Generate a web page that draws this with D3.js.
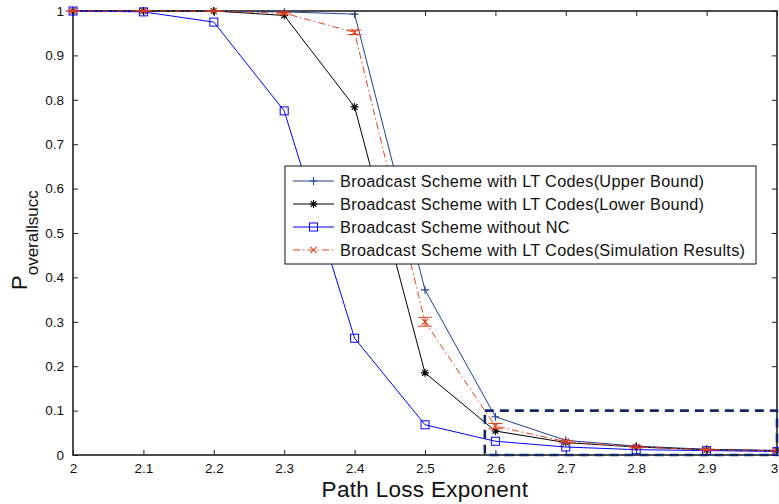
<!DOCTYPE html>
<html>
<head>
<meta charset="utf-8">
<script src="https://cdn.jsdelivr.net/npm/d3@7"></script>
<style>
  body { margin: 0; background: #fff; }
  svg { display: block; font-family: "Liberation Sans", Arial, Helvetica, sans-serif; }
</style>
</head>
<body>
<svg id="chart" width="779" height="504"></svg>
<script>
// Path loss exponent values on the x axis
const exponents = [2, 2.1, 2.2, 2.3, 2.4, 2.5, 2.6, 2.7, 2.8, 2.9, 3];

// Overall success probability for each scheme
const upperBound = [1, 1, 1, 0.998, 0.993, 0.372, 0.086, 0.033, 0.02, 0.013, 0.01];
const lowerBound = [1, 1, 1, 0.99, 0.784, 0.185, 0.054, 0.028, 0.018, 0.012, 0.01];
const withoutNC  = [1, 0.998, 0.975, 0.775, 0.263, 0.068, 0.031, 0.018, 0.012, 0.01, 0.008];
const simulation = [1, 1, 1, 0.995, 0.952, 0.30, 0.065, 0.03, 0.018, 0.012, 0.01];
const simError   = [0, 0, 0, 0.002, 0.005, 0.01, 0.006, 0.003, 0.002, 0.001, 0.001];

const xTicks = [2, 2.1, 2.2, 2.3, 2.4, 2.5, 2.6, 2.7, 2.8, 2.9, 3];
const yTicks = [0, 0.1, 0.2, 0.3, 0.4, 0.5, 0.6, 0.7, 0.8, 0.9, 1];

const legendLabels = [
  "Broadcast Scheme with LT Codes(Upper Bound)",
  "Broadcast Scheme with LT Codes(Lower Bound)",
  "Broadcast Scheme without NC",
  "Broadcast Scheme with LT Codes(Simulation Results)"
];

// Zoom region highlighted with a dashed box
const zoomBox = { x0: 2.585, x1: 3, y0: 0, y1: 0.1 };

const svg = d3.select("#chart");
const margin = { left: 73, right: 2, top: 11, bottom: 49 };
const W = 779, H = 504;
const x = d3.scaleLinear().domain([2, 3]).range([margin.left, W - margin.right]);
const y = d3.scaleLinear().domain([0, 1]).range([H - margin.bottom, margin.top]);

const plotL = x(2), plotR = x(3), plotT = y(1), plotB = y(0);

// Axes: ticks pointing inward, mirrored on top and right
const fmt = d => d3.format("")(d);
const axisB = d3.axisBottom(x).tickValues(xTicks).tickSizeInner(-5).tickSizeOuter(0).tickPadding(8).tickFormat(fmt);
const axisT = d3.axisTop(x).tickValues(xTicks).tickSizeInner(-5).tickSizeOuter(0).tickFormat("");
const axisL = d3.axisLeft(y).tickValues(yTicks).tickSizeInner(-5).tickSizeOuter(0).tickPadding(9).tickFormat(fmt);
const axisR = d3.axisRight(y).tickValues(yTicks).tickSizeInner(-5).tickSizeOuter(0).tickFormat("");

function styleAxis(g) {
  g.selectAll(".domain").remove();
  g.selectAll(".tick line").attr("stroke", "#222").attr("stroke-width", 1);
  g.selectAll(".tick text").attr("fill", "#111").style("font-size", "13.5px");
}

const gx = svg.append("g").attr("transform", `translate(0,${plotB})`).call(axisB).call(styleAxis);
// keep the last x label inside the canvas edge
gx.selectAll(".tick").filter(d => d === 3).select("text").attr("dx", -3);
svg.append("g").attr("transform", `translate(0,${plotT})`).call(axisT).call(styleAxis);
svg.append("g").attr("transform", `translate(${plotL},0)`).call(axisL).call(styleAxis);
svg.append("g").attr("transform", `translate(${plotR},0)`).call(axisR).call(styleAxis);

// Frame around the plot area
svg.append("rect")
  .attr("x", plotL).attr("y", plotT)
  .attr("width", plotR - plotL).attr("height", plotB - plotT)
  .attr("fill", "none").attr("stroke", "#222").attr("stroke-width", 1.6);

const series = [
  { values: upperBound, color: "#23408e", dash: null, marker: "plus" },
  { values: lowerBound, color: "#000000", dash: null, marker: "star" },
  { values: withoutNC,  color: "#0000ff", dash: null, marker: "square" },
  { values: simulation, color: "#e8401c", dash: "7,3,1.5,3", marker: "cross", err: simError }
];

const line = d3.line().x((d, i) => x(exponents[i])).y(d => y(d));
const plot = svg.append("g");

function drawMarker(g, type, cx, cy, color) {
  const s = 4;
  if (type === "plus") {
    g.append("path").attr("d", `M${cx - s},${cy}H${cx + s}M${cx},${cy - s}V${cy + s}`)
      .attr("stroke", color).attr("stroke-width", 1.1).attr("fill", "none");
  } else if (type === "star") {
    const d = s * 0.72;
    g.append("path").attr("d",
      `M${cx - s},${cy}H${cx + s}M${cx},${cy - s}V${cy + s}M${cx - d},${cy - d}L${cx + d},${cy + d}M${cx - d},${cy + d}L${cx + d},${cy - d}`)
      .attr("stroke", color).attr("stroke-width", 1.1).attr("fill", "none");
  } else if (type === "square") {
    g.append("rect").attr("x", cx - s).attr("y", cy - s).attr("width", 2 * s).attr("height", 2 * s)
      .attr("stroke", color).attr("stroke-width", 1).attr("fill", "none");
  } else if (type === "cross") {
    const d = s * 0.8;
    g.append("path").attr("d", `M${cx - d},${cy - d}L${cx + d},${cy + d}M${cx - d},${cy + d}L${cx + d},${cy - d}`)
      .attr("stroke", color).attr("stroke-width", 1.1).attr("fill", "none");
  }
}

series.forEach(s => {
  plot.append("path").datum(s.values)
    .attr("d", line)
    .attr("fill", "none")
    .attr("stroke", s.color)
    .attr("stroke-width", 1)
    .attr("stroke-dasharray", s.dash);
  if (s.err) {
    s.values.forEach((v, i) => {
      const cx = x(exponents[i]);
      const lo = y(v - s.err[i]), hi = y(v + s.err[i]);
      plot.append("path")
        .attr("d", `M${cx},${lo}V${hi}M${cx - 7},${lo}H${cx + 7}M${cx - 7},${hi}H${cx + 7}`)
        .attr("stroke", s.color).attr("stroke-width", 1).attr("fill", "none");
    });
  }
  s.values.forEach((v, i) => drawMarker(plot, s.marker, x(exponents[i]), y(v), s.color));
});

// Dashed box around the low-probability region
svg.append("rect")
  .attr("x", x(zoomBox.x0)).attr("y", y(zoomBox.y1))
  .attr("width", x(zoomBox.x1) - x(zoomBox.x0))
  .attr("height", y(zoomBox.y0) - y(zoomBox.y1))
  .attr("fill", "none").attr("stroke", "#142a66")
  .attr("stroke-width", 2.6).attr("stroke-dasharray", "9,6");

// Legend
const leg = svg.append("g").attr("transform", "translate(285,166)");
leg.append("rect").attr("width", 471).attr("height", 98)
  .attr("fill", "#fff").attr("stroke", "#111").attr("stroke-width", 1);
series.forEach((s, i) => {
  const ly = 15 + i * 23;
  const row = leg.append("g");
  row.append("line").attr("x1", 8).attr("x2", 49).attr("y1", ly).attr("y2", ly)
    .attr("stroke", s.color).attr("stroke-width", 1).attr("stroke-dasharray", s.dash);
  drawMarker(row, s.marker, 28.5, ly, s.color);
  row.append("text").attr("x", 55).attr("y", ly + 5.5)
    .style("font-size", "16.3px").style("letter-spacing", "0.3px")
    .attr("fill", "#111").text(legendLabels[i]);
});

// Axis titles
svg.append("text")
  .attr("x", 425).attr("y", 497)
  .attr("text-anchor", "middle").style("font-size", "22.5px").style("letter-spacing", "0.3px")
  .attr("fill", "#111")
  .text("Path Loss Exponent");

const yl = svg.append("text")
  .attr("transform", "translate(27,290) rotate(-90)")
  .attr("fill", "#111");
yl.append("tspan").style("font-size", "22px").text("P");
yl.append("tspan").attr("dy", 11).style("font-size", "17px").text("overallsucc");
</script>
</body>
</html>
